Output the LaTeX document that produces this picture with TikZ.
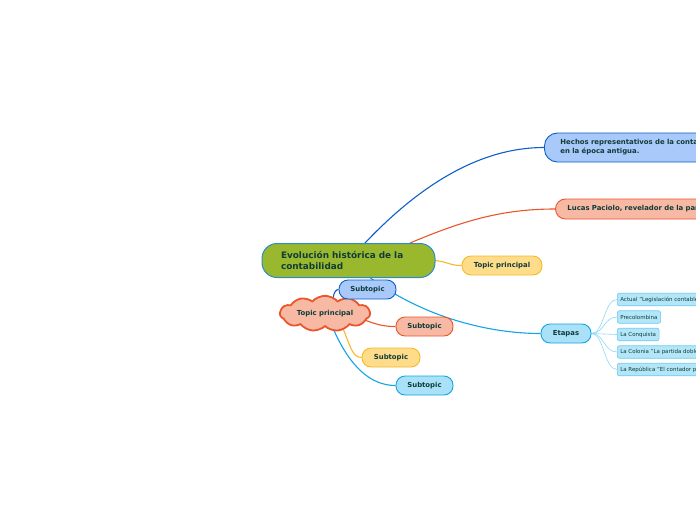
\documentclass[tikz,border=0pt]{standalone}
\usepackage{fontspec}
\setmainfont{DejaVu Sans}
\usetikzlibrary{shapes.symbols,backgrounds,calc}
\definecolor{txt}{HTML}{0F3B38}
\definecolor{bfill}{HTML}{A8C9FA}\definecolor{bline}{HTML}{0D5FC7}
\definecolor{sfill}{HTML}{F7B9A4}\definecolor{sline}{HTML}{EA552A}
\definecolor{yfill}{HTML}{FEDC89}\definecolor{yline}{HTML}{F6B92A}
\definecolor{cfill}{HTML}{A9E2F8}\definecolor{cline}{HTML}{14A3E3}
\definecolor{gfill}{HTML}{9AB82E}\definecolor{gline}{HTML}{2A8CC8}
\definecolor{lfill}{HTML}{B4E6F9}\definecolor{lline}{HTML}{6CCBF0}
\definecolor{lconn}{HTML}{8ED8F5}
\tikzset{
  topic/.style={draw, line width=0.9pt, rounded corners=9pt, minimum height=19pt, inner xsep=3pt, inner ysep=0pt, font=\bfseries\fontsize{6.9}{8}\selectfont, text=txt},
  bluebox/.style={topic, fill=bfill, draw=bline},
  salbox/.style={topic, fill=sfill, draw=sline},
  yelbox/.style={topic, fill=yfill, draw=yline},
  cyanbox/.style={topic, fill=cfill, draw=cline},
  leaf/.style={draw=lline, fill=lfill, line width=0.6pt, rounded corners=2pt, minimum height=12.5pt, inner xsep=3pt, inner ysep=0pt, anchor=west, font=\fontsize{5.5}{6}\selectfont, text=txt},
  conn/.style={line width=1.1pt},
  lconnst/.style={draw=lconn, line width=0.6pt}
}
\begin{document}
\begin{tikzpicture}[x=1pt,y=-1pt]
\useasboundingbox (0,0) rectangle (696,520);
\clip (0,0) rectangle (696,520);
% central
\node[draw=gline, fill=gfill, line width=1pt, rounded corners=15pt, minimum width=173pt, minimum height=34pt, inner xsep=19pt, text width=135pt, align=left, font=\bfseries\fontsize{8.9}{11}\selectfont, text=txt] (c) at (348.5,260.5) {Evolución histórica de la\\contabilidad};
% main branches
\node[bluebox, anchor=west, rounded corners=13pt, minimum height=29pt, inner xsep=16pt, text width=200pt, align=left, font=\bfseries\fontsize{6.9}{9}\selectfont] (h) at (544,147.5) {Hechos representativos de la contabilidad\\en la época antigua.};
\node[salbox, anchor=west, minimum height=20pt, rounded corners=10pt, inner xsep=12pt, text width=200pt, align=left] (l) at (555,209) {Lucas Paciolo, revelador de la partida doble};
\node[yelbox, minimum width=80pt] (tp) at (502,265.5) {Topic principal};
\node[cyanbox, minimum width=50pt] (e) at (566,333.5) {Etapas};
% floating topic
\node[cloud, cloud puffs=11, cloud puff arc=95, aspect=3, draw=sline, fill=sfill, line width=1.8pt, minimum width=90pt, minimum height=33pt, inner sep=0pt, font=\bfseries\fontsize{6.9}{8}\selectfont, text=txt] (cl) at (325,313.5) {Topic principal};
\node[bluebox, minimum width=57pt] (s1) at (367.5,289.5) {Subtopic};
\node[salbox, minimum width=57pt] (s2) at (424.5,326.5) {Subtopic};
\node[yelbox, minimum width=58pt] (s3) at (391,357.5) {Subtopic};
\node[cyanbox, minimum width=57pt] (s4) at (424.5,385.5) {Subtopic};
% leaves
\node[leaf] (a1) at (617,299.5) {Actual "Legislación contable"};
\node[leaf] (a2) at (617,317) {Precolombina};
\node[leaf] (a3) at (617,334.5) {La Conquista};
\node[leaf] (a4) at (617,352) {La Colonia "La partida doble"};
\node[leaf] (a5) at (617,369.5) {La República "El contador público"};
\begin{pgfonlayer}{background}
\draw[conn, bline] ($(c.north)+(16.5,0)$) .. controls (420,185) and (480,147.5) .. (h.west);
\draw[conn, sline] ($(c.north)+(61.5,0)$) .. controls (460,222) and (500,209) .. (l.west);
\draw[conn, yline] (c.east) .. controls (448,262) and (450,265.5) .. (tp.west);
\draw[conn, cline] ($(c.south)+(22,0)$) .. controls (425,318) and (490,333.5) .. (e.west);
\draw[conn, bline] ($(cl.center)+(8,-15)$) .. controls (334,292) and (336,289.5) .. (s1.west);
\draw[conn, sline] ($(cl.center)+(41,7)$) .. controls (378,325) and (385,326.5) .. (s2.west);
\draw[conn, yline] ($(cl.center)+(18,15)$) .. controls (350,345) and (352,357.5) .. (s3.west);
\draw[conn, cline] ($(cl.center)+(9,17)$) .. controls (350,366) and (370,385.5) .. (s4.west);
\foreach \n in {a1,a2,a3,a4,a5}{
  \draw[lconnst] (e.east) .. controls (604,333.5) and ($(\n.west)+(-13,0)$) .. (\n.west);
}
\end{pgfonlayer}
\end{tikzpicture}
\end{document}
